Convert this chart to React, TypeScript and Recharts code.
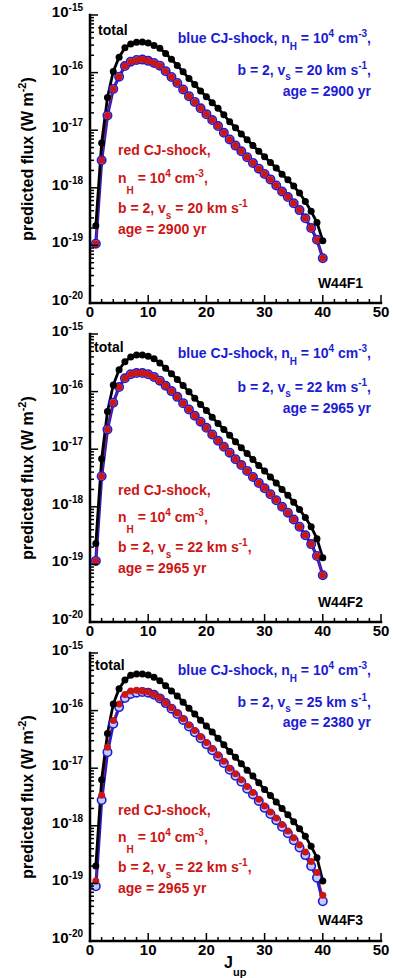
import React from 'react';
import { LineChart, Line, XAxis, YAxis } from 'recharts';

const J_UP = [1, 2, 3, 4, 5, 6, 7, 8, 9, 10, 11, 12, 13, 14, 15, 16, 17, 18, 19, 20,
  21, 22, 23, 24, 25, 26, 27, 28, 29, 30, 31, 32, 33, 34, 35, 36, 37, 38, 39, 40];

// W44F1
const TOTAL_F1 = [2.2e-19, 6.0e-18, 3.7e-17, 1.05e-16, 1.85e-16, 2.7e-16, 3.15e-16, 3.35e-16, 3.4e-16, 3.25e-16,
  2.95e-16, 2.65e-16, 2.15e-16, 1.7e-16, 1.33e-16, 1.03e-16, 7.9e-17, 6.2e-17, 4.8e-17, 3.8e-17,
  3.0e-17, 2.4e-17, 1.85e-17, 1.4e-17, 1.1e-17, 8.6e-18, 6.8e-18, 5.4e-18, 4.3e-18, 3.45e-18,
  2.75e-18, 2.2e-18, 1.72e-18, 1.38e-18, 1.07e-18, 8.1e-19, 5.8e-19, 3.9e-19, 2.5e-19, 1.2e-19];
const BLUE_F1 = [1.07e-19, 3.0e-18, 1.8e-17, 5.2e-17, 8.5e-17, 1.3e-16, 1.55e-16, 1.66e-16, 1.68e-16, 1.6e-16,
  1.47e-16, 1.32e-16, 1.06e-16, 8.4e-17, 6.6e-17, 5.1e-17, 3.9e-17, 3.1e-17, 2.4e-17, 1.9e-17,
  1.5e-17, 1.18e-17, 9.0e-18, 6.9e-18, 5.4e-18, 4.3e-18, 3.4e-18, 2.7e-18, 2.15e-18, 1.74e-18,
  1.4e-18, 1.1e-18, 8.6e-19, 6.9e-19, 5.4e-19, 4.1e-19, 2.95e-19, 2.0e-19, 1.25e-19, 6.0e-20];
const RED_F1 = [1.07e-19, 3.0e-18, 1.8e-17, 5.2e-17, 8.5e-17, 1.3e-16, 1.55e-16, 1.66e-16, 1.68e-16, 1.6e-16,
  1.47e-16, 1.32e-16, 1.06e-16, 8.4e-17, 6.6e-17, 5.1e-17, 3.9e-17, 3.1e-17, 2.4e-17, 1.9e-17,
  1.5e-17, 1.18e-17, 9.0e-18, 6.9e-18, 5.4e-18, 4.3e-18, 3.4e-18, 2.7e-18, 2.15e-18, 1.74e-18,
  1.4e-18, 1.1e-18, 8.6e-19, 6.9e-19, 5.4e-19, 4.1e-19, 2.95e-19, 2.0e-19, 1.25e-19, 6.0e-20];

// W44F2
const TOTAL_F2 = [2.3e-19, 6.8e-18, 4.5e-17, 1.3e-16, 2.4e-16, 3.3e-16, 4.0e-16, 4.3e-16, 4.3e-16, 4.1e-16,
  3.7e-16, 3.15e-16, 2.55e-16, 2.05e-16, 1.63e-16, 1.27e-16, 9.9e-17, 7.7e-17, 6.0e-17, 4.7e-17,
  3.6e-17, 2.8e-17, 2.2e-17, 1.75e-17, 1.35e-17, 1.06e-17, 8.4e-18, 6.6e-18, 5.2e-18, 4.2e-18,
  3.3e-18, 2.6e-18, 2.0e-18, 1.58e-18, 1.2e-18, 9.0e-19, 6.5e-19, 4.5e-19, 2.8e-19, 1.3e-19];
const BLUE_F2 = [1.15e-19, 3.4e-18, 2.2e-17, 6.4e-17, 1.2e-16, 1.7e-16, 2.0e-16, 2.1e-16, 2.1e-16, 2.0e-16,
  1.8e-16, 1.55e-16, 1.26e-16, 1.02e-16, 8.1e-17, 6.3e-17, 4.9e-17, 3.8e-17, 3.0e-17, 2.35e-17,
  1.8e-17, 1.4e-17, 1.1e-17, 8.7e-18, 6.7e-18, 5.3e-18, 4.2e-18, 3.3e-18, 2.6e-18, 2.1e-18,
  1.65e-18, 1.3e-18, 1.0e-18, 7.9e-19, 6.0e-19, 4.5e-19, 3.2e-19, 2.25e-19, 1.4e-19, 6.5e-20];
const RED_F2 = [1.15e-19, 3.4e-18, 2.2e-17, 6.4e-17, 1.2e-16, 1.7e-16, 2.0e-16, 2.1e-16, 2.1e-16, 2.0e-16,
  1.8e-16, 1.55e-16, 1.26e-16, 1.02e-16, 8.1e-17, 6.3e-17, 4.9e-17, 3.8e-17, 3.0e-17, 2.35e-17,
  1.8e-17, 1.4e-17, 1.1e-17, 8.7e-18, 6.7e-18, 5.3e-18, 4.2e-18, 3.3e-18, 2.6e-18, 2.1e-18,
  1.65e-18, 1.3e-18, 1.0e-18, 7.9e-19, 6.0e-19, 4.5e-19, 3.2e-19, 2.25e-19, 1.4e-19, 6.5e-20];

// W44F3
const TOTAL_F3 = [2.0e-19, 6.3e-18, 4.0e-17, 1.3e-16, 2.4e-16, 3.4e-16, 4.1e-16, 4.3e-16, 4.3e-16, 4.15e-16,
  3.8e-16, 3.3e-16, 2.7e-16, 2.2e-16, 1.8e-16, 1.4e-16, 1.1e-16, 8.7e-17, 6.8e-17, 5.4e-17,
  4.25e-17, 3.3e-17, 2.55e-17, 1.95e-17, 1.55e-17, 1.2e-17, 9.2e-18, 7.3e-18, 5.6e-18, 4.25e-18,
  3.35e-18, 2.6e-18, 2.0e-18, 1.55e-18, 1.18e-18, 8.9e-19, 6.6e-19, 4.4e-19, 2.8e-19, 1.1e-19];
const BLUE_F3 = [8.9e-20, 2.8e-18, 1.9e-17, 5.9e-17, 1.15e-16, 1.65e-16, 1.95e-16, 2.05e-16, 2.1e-16, 2.05e-16,
  1.88e-16, 1.63e-16, 1.35e-16, 1.08e-16, 8.7e-17, 6.9e-17, 5.3e-17, 4.2e-17, 3.3e-17, 2.6e-17,
  2.05e-17, 1.6e-17, 1.23e-17, 9.4e-18, 7.4e-18, 5.8e-18, 4.4e-18, 3.5e-18, 2.7e-18, 2.05e-18,
  1.6e-18, 1.25e-18, 9.6e-19, 7.4e-19, 5.6e-19, 4.2e-19, 3.1e-19, 2.0e-19, 1.25e-19, 4.9e-20];
const RED_F3 = [1.1e-19, 3.4e-18, 2.3e-17, 6.7e-17, 1.3e-16, 1.9e-16, 2.2e-16, 2.25e-16, 2.2e-16, 2.1e-16,
  1.9e-16, 1.65e-16, 1.37e-16, 1.12e-16, 9.1e-17, 7.2e-17, 5.6e-17, 4.5e-17, 3.5e-17, 2.8e-17,
  2.2e-17, 1.7e-17, 1.32e-17, 1.0e-17, 8.0e-18, 6.3e-18, 4.8e-18, 3.8e-18, 2.9e-18, 2.2e-18,
  1.74e-18, 1.37e-18, 1.05e-18, 8.1e-19, 6.2e-19, 4.7e-19, 3.5e-19, 2.4e-19, 1.55e-19, 6.2e-20];

const X_TICKS = [0, 2, 4, 6, 8, 10, 12, 14, 16, 18, 20, 22, 24, 26, 28, 30, 32, 34, 36, 38, 40, 42, 44, 46, 48, 50];
const X_TICK_LABELS = ['0', '10', '20', '30', '40', '50'];
const Y_EXPONENTS = [-20, -19, -18, -17, -16, -15];
const Y_TICK_LABELS = ['-20', '-19', '-18', '-17', '-16', '-15'];

const PANEL_NAMES = ['W44F1', 'W44F2', 'W44F3'];
const BLUE_TEXT = [
  ['blue CJ-shock, n_{H} = 10^{4} cm^{-3},', 'b = 2, v_{s} = 20 km s^{-1},', 'age = 2900 yr'],
  ['blue CJ-shock, n_{H} = 10^{4} cm^{-3},', 'b = 2, v_{s} = 22 km s^{-1},', 'age = 2965 yr'],
  ['blue CJ-shock, n_{H} = 10^{4} cm^{-3},', 'b = 2, v_{s} = 25 km s^{-1},', 'age = 2380 yr'],
];
const RED_TEXT = [
  ['red CJ-shock,', 'n_{H} = 10^{4} cm^{-3},', 'b = 2, v_{s} = 20 km s^{-1}', 'age = 2900 yr'],
  ['red CJ-shock,', 'n_{H} = 10^{4} cm^{-3},', 'b = 2, v_{s} = 22 km s^{-1},', 'age = 2965 yr'],
  ['red CJ-shock,', 'n_{H} = 10^{4} cm^{-3},', 'b = 2, v_{s} = 22 km s^{-1},', 'age = 2965 yr'],
];

const FONT = '"Liberation Sans", Arial, Helvetica, sans-serif';
const BLUE = '#1c1cd4';
const RED = '#cc1616';

const Y_TICKS: number[] = [];
Y_EXPONENTS.forEach((e, i) => {
  const base = Number('1e' + e);
  Y_TICKS.push(base);
  if (i < Y_EXPONENTS.length - 1) {
    for (let m = 2; m <= 9; m++) Y_TICKS.push(m * base);
  }
});

function majorIndex(v: number) {
  const lg = Math.log10(v);
  const r = Math.round(lg);
  if (Math.abs(lg - r) < 1e-6) return Y_EXPONENTS.indexOf(r);
  return -1;
}

const YTickLeft = (props: any) => {
  const { x, y, payload } = props;
  const idx = majorIndex(payload.value);
  const edge = x + 8;
  return (
    <g>
      <line x1={edge} x2={edge + (idx >= 0 ? 8 : 4)} y1={y} y2={y} stroke="#000" strokeWidth={1.5} />
      {idx >= 0 && (
        <text x={x + 1} y={y + 2} textAnchor="end" fontFamily={FONT} fontWeight="bold" fontSize={15} fill="#000">
          10<tspan dy={-6} fontSize={10}>{Y_TICK_LABELS[idx]}</tspan>
        </text>
      )}
    </g>
  );
};

const YTickRight = (props: any) => {
  const { x, y, payload } = props;
  const idx = majorIndex(payload.value);
  const edge = x - 8;
  return <line x1={edge} x2={edge - (idx >= 0 ? 8 : 4)} y1={y} y2={y} stroke="#000" strokeWidth={1.5} />;
};

const XTickBottom = (props: any) => {
  const { x, y, payload } = props;
  const v = payload.value;
  const major = v % 10 === 0;
  const edge = y - 8;
  return (
    <g>
      <line x1={x} x2={x} y1={edge} y2={edge - (major ? 8 : 4)} stroke="#000" strokeWidth={1.5} />
      {major && (
        <text x={x} y={y + 6} textAnchor="middle" fontFamily={FONT} fontWeight="bold" fontSize={15} fill="#000">
          {X_TICK_LABELS[v / 10]}
        </text>
      )}
    </g>
  );
};

const XTickTop = (props: any) => {
  const { x, y, payload } = props;
  const major = payload.value % 10 === 0;
  const edge = y + 8;
  return <line x1={x} x2={x} y1={edge} y2={edge + (major ? 8 : 4)} stroke="#000" strokeWidth={1.5} />;
};

function Rich({ x, y, anchor, color, text, subDy = 6.5 }: any) {
  const parts: { t: string; k: string }[] = [];
  const re = /(_\{[^}]*\}|\^\{[^}]*\})/;
  text.split(re).forEach((s: string) => {
    if (!s) return;
    if (s.startsWith('_{')) parts.push({ t: s.slice(2, -1), k: 'sub' });
    else if (s.startsWith('^{')) parts.push({ t: s.slice(2, -1), k: 'sup' });
    else parts.push({ t: s, k: 'n' });
  });
  let off = 0;
  return (
    <text x={x} y={y} textAnchor={anchor} fill={color} fontFamily={FONT} fontWeight="bold" fontSize={14} style={{ whiteSpace: 'pre' }}>
      {parts.map((p, i) => {
        const target = p.k === 'sub' ? subDy : p.k === 'sup' ? -6 : 0;
        const dy = target - off;
        off = target;
        return (
          <tspan key={i} dy={dy} fontSize={p.k === 'n' ? 14 : 10}>
            {p.t}
          </tspan>
        );
      })}
    </text>
  );
}

const AXIS_LINE = { stroke: '#000', strokeWidth: 2.5, strokeLinecap: 'square' as const };

function Panel({ total, blue, red, top }: any) {
  const data = J_UP.map((j, i) => ({ J: j, total: total[i], blue: blue[i], red: red[i] }));
  return (
    <div style={{ position: 'absolute', left: 0, top, width: 393, height: 330 }}>
      <LineChart width={393} height={330} data={data} margin={{ top: 15, right: 12, left: 0, bottom: 0 }}>
        <XAxis xAxisId="b" dataKey="J" type="number" domain={[0, 50]} ticks={X_TICKS} interval={0}
          tick={<XTickBottom />} tickLine={false} tickSize={6} tickMargin={2} axisLine={AXIS_LINE} height={27} allowDataOverflow />
        <XAxis xAxisId="t" orientation="top" dataKey="J" type="number" domain={[0, 50]} ticks={X_TICKS} interval={0}
          tick={<XTickTop />} tickLine={false} tickSize={6} tickMargin={2} axisLine={AXIS_LINE} height={0} allowDataOverflow />
        <YAxis yAxisId="l" type="number" scale="log" domain={[1e-20, 1e-15]} ticks={Y_TICKS} interval={0}
          tick={<YTickLeft />} tickLine={false} tickSize={6} tickMargin={2} axisLine={AXIS_LINE} width={90} allowDataOverflow />
        <YAxis yAxisId="r" orientation="right" type="number" scale="log" domain={[1e-20, 1e-15]} ticks={Y_TICKS} interval={0}
          tick={<YTickRight />} tickLine={false} tickSize={6} tickMargin={2} axisLine={AXIS_LINE} width={0} allowDataOverflow />
        <Line xAxisId="b" yAxisId="l" dataKey="blue" stroke={BLUE} strokeWidth={3.2}
          dot={{ r: 4.2, fill: '#c4c9ff', stroke: BLUE, strokeWidth: 1.6 }} activeDot={false} isAnimationActive={false} />
        <Line xAxisId="b" yAxisId="l" dataKey="red" stroke={RED} strokeWidth={0.8}
          dot={{ r: 3.5, fill: RED, stroke: 'none' }} activeDot={false} isAnimationActive={false} />
        <Line xAxisId="b" yAxisId="l" dataKey="total" stroke="#000" strokeWidth={2.8}
          dot={{ r: 3.5, fill: '#000', stroke: 'none' }} activeDot={false} isAnimationActive={false} />
      </LineChart>
    </div>
  );
}

const PANEL_TOPS = [0, 319, 638];
const TOTAL_POS = [[98, 35], [94, 352], [95, 670]];
const BLUE_BASE = [[43, 75, 96], [358, 392, 413], [675, 707, 727]];
const RED_BASE = [[155, 183, 213, 234], [495, 522, 552, 573], [815, 842, 872, 893]];
const NAME_BASE = [288, 607, 925];

export default function App() {
  const series = [
    [TOTAL_F1, BLUE_F1, RED_F1],
    [TOTAL_F2, BLUE_F2, RED_F2],
    [TOTAL_F3, BLUE_F3, RED_F3],
  ];
  return (
    <div style={{ position: 'absolute', left: 0, top: 0, width: 393, height: 978, background: '#fff', overflow: 'hidden' }}>
      {series.map((s, i) => (
        <Panel key={i} total={s[0]} blue={s[1]} red={s[2]} top={PANEL_TOPS[i]} />
      ))}
      <svg width={393} height={978} style={{ position: 'absolute', left: 0, top: 0, pointerEvents: 'none' }}>
        {[0, 1, 2].map((i) => {
          const plotTop = 15 + PANEL_TOPS[i];
          const center = plotTop + 144;
          return (
            <g key={i}>
              <text x={33} y={center} transform={`rotate(-90 33 ${center})`} textAnchor="middle"
                fontFamily={FONT} fontWeight="bold" fontSize={16} fill="#000">
                predicted flux (W m<tspan dy={-7} fontSize={11}>-2</tspan><tspan dy={7}>)</tspan>
              </text>
              <text x={TOTAL_POS[i][0]} y={TOTAL_POS[i][1]} fontFamily={FONT} fontWeight="bold" fontSize={14} fill="#000">total</text>
              {BLUE_TEXT[i].map((t, k) => (
                <Rich key={'b' + k} x={371} y={BLUE_BASE[i][k]} anchor="end" color={BLUE} text={t} subDy={k === 1 ? 5 : 6.5} />
              ))}
              {RED_TEXT[i].map((t, k) => (
                <Rich key={'r' + k} x={118} y={RED_BASE[i][k]} anchor="start" color={RED} text={t} subDy={k === 1 ? 11 : 6} />
              ))}
              <text x={363} y={NAME_BASE[i]} textAnchor="end" fontFamily={FONT} fontWeight="bold" fontSize={14} fill="#000">{PANEL_NAMES[i]}</text>
            </g>
          );
        })}
        <text x={224} y={968} fontFamily={FONT} fontWeight="bold" fontSize={16} fill="#000">
          J<tspan dy={8} fontSize={11}>up</tspan>
        </text>
      </svg>
    </div>
  );
}
